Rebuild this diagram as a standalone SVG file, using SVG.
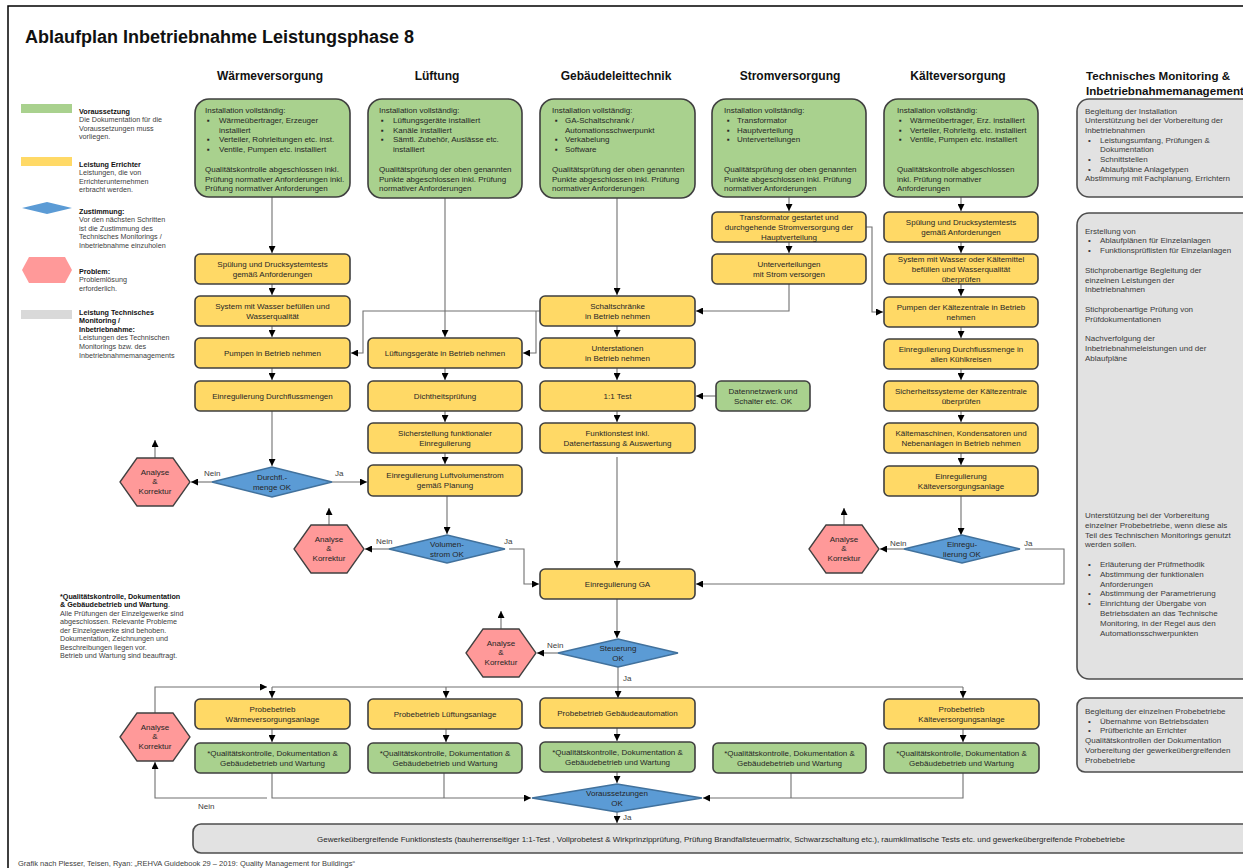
<svg xmlns="http://www.w3.org/2000/svg" width="1243" height="868" viewBox="0 0 1243 868">
<style>
text{font-family:"Liberation Sans",Arial,sans-serif}
.t{font-size:8px;fill:#262626}
.m{text-anchor:middle}
.h{font-size:12px;font-weight:bold;fill:#111}
.l{font-size:7.2px;fill:#404040}
.lb{font-weight:bold;fill:#111}
.gt{font-size:8px;fill:#3a3a3a}
.lab{font-size:8px;fill:#404040}
.g{fill:#a9d18e;stroke:#3f3f3f;stroke-width:1.6}
.y{fill:#ffd966;stroke:#3f3f3f;stroke-width:1.6}
.b{fill:#5b9bd5;stroke:#41719c;stroke-width:1.3}
.p{fill:#ff9999;stroke:#404040;stroke-width:1.3}
.gr{fill:#e2e2e2;stroke:#4d4d4d;stroke-width:1.6}
.cn{fill:none;stroke:#707070;stroke-width:1.1}
.ar{marker-end:url(#ah)}
</style>
<defs>
<marker id="ah" viewBox="0 0 10 10" refX="10" refY="5" markerWidth="7" markerHeight="7" orient="auto" markerUnits="userSpaceOnUse"><path d="M0,0 L10,5 L0,10 z" fill="#000"/></marker>
</defs>
<rect x="0" y="0" width="1243" height="868" fill="#fff"/>
<rect x="8" y="6" width="1250" height="880" fill="none" stroke="#000" stroke-width="1.5"/>
<text x="25" y="43" font-size="18" font-weight="bold" fill="#111">Ablaufplan Inbetriebnahme Leistungsphase 8</text>

<g id="headers">
<text class="h m" x="270" y="80">Wärmeversorgung</text>
<text class="h m" x="437" y="80">Lüftung</text>
<text class="h m" x="616" y="80">Gebäudeleittechnik</text>
<text class="h m" x="790" y="80">Stromversorgung</text>
<text class="h m" x="958" y="80">Kälteversorgung</text>
<text class="h" x="1086" y="80" style="font-size:11.6px">Technisches Monitoring &amp;</text>
<text class="h" x="1086" y="95" style="font-size:11.6px">Inbetriebnahmemanagement</text>
</g>

<g id="legend">
<rect x="21" y="104" width="51" height="9" fill="#a9d18e"/>
<text class="l" x="79"><tspan class="lb" x="79" y="113.5">Voraussetzung</tspan><tspan x="79" y="122.1">Die Dokumentation für die</tspan><tspan x="79" y="130.7">Voraussetzungen muss</tspan><tspan x="79" y="139.3">vorliegen.</tspan></text>
<rect x="21" y="157" width="51" height="9" fill="#ffd966"/>
<text class="l"><tspan class="lb" x="79" y="166.5">Leistung Errichter</tspan><tspan x="79" y="175.1">Leistungen, die von</tspan><tspan x="79" y="183.7">Errichterunternehmen</tspan><tspan x="79" y="192.3">erbracht werden.</tspan></text>
<polygon points="22,208 47,202 72,208 47,214" fill="#5b9bd5"/>
<text class="l"><tspan class="lb" x="79" y="213.5">Zustimmung:</tspan><tspan x="79" y="222.1">Vor den nächsten Schritten</tspan><tspan x="79" y="230.7">ist die Zustimmung des</tspan><tspan x="79" y="239.3">Technisches Monitorings /</tspan><tspan x="79" y="247.9">Inbetriebnahme einzuholen</tspan></text>
<polygon points="22,270 29,257 65,257 72,270 65,283 29,283" fill="#ff9999"/>
<text class="l"><tspan class="lb" x="79" y="273.5">Problem:</tspan><tspan x="79" y="282.1">Problemlösung</tspan><tspan x="79" y="290.7">erforderlich.</tspan></text>
<rect x="21" y="310" width="51" height="9" fill="#d9d9d9"/>
<text class="l"><tspan class="lb" x="79" y="314.5">Leistung Technisches</tspan><tspan class="lb" x="79" y="323.1">Monitoring /</tspan><tspan class="lb" x="79" y="331.7">Inbetriebnahme:</tspan><tspan x="79" y="340.3">Leistungen des Technischen</tspan><tspan x="79" y="348.9">Monitorings bzw. des</tspan><tspan x="79" y="357.5">Inbetriebnahmemanagements</tspan></text>
</g>

<g id="footnote">
<text class="l"><tspan class="lb" x="60" y="598.5">*Qualitätskontrolle, Dokumentation</tspan><tspan class="lb" x="60" y="607">&amp; Gebäudebetrieb und Wartung</tspan><tspan>.</tspan><tspan x="60" y="615.5">Alle Prüfungen der Einzelgewerke sind</tspan><tspan x="60" y="624">abgeschlossen. Relevante Probleme</tspan><tspan x="60" y="632.5">der Einzelgewerke sind behoben.</tspan><tspan x="60" y="641">Dokumentation, Zeichnungen und</tspan><tspan x="60" y="649.5">Beschreibungen liegen vor.</tspan><tspan x="60" y="658">Betrieb und Wartung sind beauftragt.</tspan></text>
</g>

<g id="connectors">
<path class="cn ar" d="M272,197 V253"/>
<path class="cn ar" d="M272,284 V295"/>
<path class="cn ar" d="M272,326 V337"/>
<path class="cn ar" d="M272,368 V380"/>
<path class="cn ar" d="M272,411 V466"/>
<path class="cn ar" d="M212,482 H191"/>
<path class="cn ar" d="M332,482 H367"/>
<path class="cn ar" d="M155,458 V440"/>
<path class="cn ar" d="M540,311 H363 V353 H351"/>
<path class="cn ar" d="M536,311 V353 H523"/>
<path class="cn ar" d="M445,198 V337"/>
<path class="cn ar" d="M445,368 V380"/>
<path class="cn ar" d="M445,411 V422"/>
<path class="cn ar" d="M445,453 V464"/>
<path class="cn ar" d="M447,496 V534"/>
<path class="cn ar" d="M389,549 H365"/>
<path class="cn ar" d="M329,525 V508"/>
<path class="cn ar" d="M509,549 H524 V584 H539"/>
<path class="cn ar" d="M617,198 V295"/>
<path class="cn ar" d="M617,326 V337"/>
<path class="cn ar" d="M617,368 V380"/>
<path class="cn ar" d="M617,411 V422"/>
<path class="cn ar" d="M617,457 V568"/>
<path class="cn ar" d="M716,396 H696"/>
<path class="cn ar" d="M789,284 V311 H696"/>
<path class="cn ar" d="M617,599 V638"/>
<path class="cn ar" d="M558,653 H537"/>
<path class="cn ar" d="M501,629 V611"/>
<path class="cn ar" d="M618,667 V698"/>
<path class="cn" d="M272,687 H963"/>
<path class="cn ar" d="M272,687 V698"/>
<path class="cn ar" d="M446,687 V698"/>
<path class="cn ar" d="M963,687 V698"/>
<path class="cn ar" d="M155,713 V687 H267"/>
<path class="cn ar" d="M272,729 V742"/>
<path class="cn ar" d="M446,729 V742"/>
<path class="cn ar" d="M617,728 V741"/>
<path class="cn ar" d="M963,729 V742"/>
<path class="cn ar" d="M272,773 V798 H531"/>
<path class="cn" d="M444,773 V798"/>
<path class="cn ar" d="M617,772 V783"/>
<path class="cn ar" d="M963,773 V798 H703"/>
<path class="cn" d="M791,773 V798"/>
<path class="cn ar" d="M267,798 H155 V762"/>
<path class="cn ar" d="M617,812 V823"/>
<path class="cn ar" d="M789,197 V211"/>
<path class="cn ar" d="M789,242 V253"/>
<path class="cn ar" d="M866,227 H872 V312 H883"/>
<path class="cn ar" d="M961,197 V211"/>
<path class="cn ar" d="M961,242 V253"/>
<path class="cn ar" d="M961,284 V296"/>
<path class="cn ar" d="M961,327 V338"/>
<path class="cn ar" d="M961,369 V380"/>
<path class="cn ar" d="M961,411 V422"/>
<path class="cn ar" d="M961,453 V465"/>
<path class="cn ar" d="M961,496 V535"/>
<path class="cn ar" d="M904,549 H880"/>
<path class="cn ar" d="M844,525 V508"/>
<path class="cn ar" d="M1025,549 H1064 V584 H696"/>
</g>

<g id="labels">
<text class="lab" x="204" y="476">Nein</text>
<text class="lab" x="335" y="476">Ja</text>
<text class="lab" x="376" y="544">Nein</text>
<text class="lab" x="504" y="544">Ja</text>
<text class="lab" x="547" y="648">Nein</text>
<text class="lab" x="623" y="681">Ja</text>
<text class="lab" x="890" y="546">Nein</text>
<text class="lab" x="1024" y="546">Ja</text>
<text class="lab" x="198" y="809">Nein</text>
<text class="lab" x="623" y="820">Ja</text>
</g>

<g id="waerme-install">
<rect class="g" x="195" y="99" width="155" height="98" rx="14"/>
<text class="t"><tspan x="205" y="113">Installation vollständig:</tspan><tspan x="207" y="122.8">▪</tspan><tspan x="219" y="122.8">Wärmeübertrager, Erzeuger</tspan><tspan x="219" y="132.6">installiert</tspan><tspan x="207" y="142.4">▪</tspan><tspan x="219" y="142.4">Verteiler, Rohrleitungen etc. inst.</tspan><tspan x="207" y="152.2">▪</tspan><tspan x="219" y="152.2">Ventile, Pumpen etc. installiert</tspan><tspan x="205" y="171.8">Qualitätskontrolle abgeschlossen inkl.</tspan><tspan x="205" y="181.6">Prüfung normativer Anforderungen inkl.</tspan><tspan x="205" y="191.4">Prüfung normativer Anforderungen</tspan></text>
</g>
<g id="waerme-spuelung"><rect class="y" x="195" y="254" width="155" height="30" rx="5"/><text class="t m" x="272.5"><tspan x="272.5" y="267">Spülung und Drucksystemtests</tspan><tspan x="272.5" y="277">gemäß Anforderungen</tspan></text></g>
<g id="waerme-befuellen"><rect class="y" x="195" y="296" width="155" height="30" rx="5"/><text class="t m"><tspan x="272.5" y="309">System mit Wasser befüllen und</tspan><tspan x="272.5" y="319">Wasserqualität</tspan></text></g>
<g id="waerme-pumpen"><rect class="y" x="195" y="338" width="155" height="30" rx="5"/><text class="t m" x="272.5" y="356">Pumpen in Betrieb nehmen</text></g>
<g id="waerme-einreg"><rect class="y" x="195" y="381" width="155" height="30" rx="5"/><text class="t m" x="272.5" y="399">Einregulierung Durchflussmengen</text></g>
<g id="waerme-ok"><polygon class="b" points="212,482 272,467 332,482 272,497"/><text class="t m"><tspan x="272" y="480">Durchfl.-</tspan><tspan x="272" y="490">menge OK</tspan></text></g>
<g id="waerme-analyse"><polygon class="p" points="120,482 137,458 173,458 190,482 173,506 137,506"/><text class="t m"><tspan x="155" y="475">Analyse</tspan><tspan x="155" y="484">&amp;</tspan><tspan x="155" y="494">Korrektur</tspan></text></g>

<g id="lueftung-install">
<rect class="g" x="368" y="99" width="154" height="99" rx="14"/>
<text class="t"><tspan x="379" y="113">Installation vollständig:</tspan><tspan x="381" y="122.8">▪</tspan><tspan x="393" y="122.8">Lüftungsgeräte installiert</tspan><tspan x="381" y="132.6">▪</tspan><tspan x="393" y="132.6">Kanäle installiert</tspan><tspan x="381" y="142.4">▪</tspan><tspan x="393" y="142.4">Sämtl. Zubehör, Auslässe etc.</tspan><tspan x="393" y="152.2">installiert</tspan><tspan x="379" y="171.8">Qualitätsprüfung der oben genannten</tspan><tspan x="379" y="181.6">Punkte abgeschlossen inkl. Prüfung</tspan><tspan x="379" y="191.4">normativer Anforderungen</tspan></text>
</g>
<g id="lueftung-geraete"><rect class="y" x="368" y="338" width="154" height="30" rx="5"/><text class="t m" x="445" y="356">Lüftungsgeräte in Betrieb nehmen</text></g>
<g id="lueftung-dicht"><rect class="y" x="368" y="381" width="154" height="30" rx="5"/><text class="t m" x="445" y="399">Dichtheitsprüfung</text></g>
<g id="lueftung-sicher"><rect class="y" x="368" y="423" width="154" height="30" rx="5"/><text class="t m"><tspan x="445" y="436">Sicherstellung funktionaler</tspan><tspan x="445" y="446">Einregulierung</tspan></text></g>
<g id="lueftung-volumen"><rect class="y" x="368" y="465" width="154" height="31" rx="5"/><text class="t m"><tspan x="445" y="478">Einregulierung Luftvolumenstrom</tspan><tspan x="445" y="488">gemäß Planung</tspan></text></g>
<g id="lueftung-ok"><polygon class="b" points="389,549 447,535 505,549 447,563"/><text class="t m"><tspan x="447" y="547">Volumen-</tspan><tspan x="447" y="557">strom OK</tspan></text></g>
<g id="lueftung-analyse"><polygon class="p" points="294,549 311,525 347,525 364,549 347,573 311,573"/><text class="t m"><tspan x="329" y="542">Analyse</tspan><tspan x="329" y="551">&amp;</tspan><tspan x="329" y="561">Korrektur</tspan></text></g>

<g id="glt-install">
<rect class="g" x="540" y="99" width="155" height="99" rx="14"/>
<text class="t"><tspan x="552" y="113">Installation vollständig:</tspan><tspan x="555" y="122.8">▪</tspan><tspan x="565" y="122.8">GA-Schaltschrank /</tspan><tspan x="565" y="132.6">Automationsschwerpunkt</tspan><tspan x="555" y="142.4">▪</tspan><tspan x="565" y="142.4">Verkabelung</tspan><tspan x="555" y="152.2">▪</tspan><tspan x="565" y="152.2">Software</tspan><tspan x="552" y="171.8">Qualitätsprüfung der oben genannten</tspan><tspan x="552" y="181.6">Punkte abgeschlossen inkl. Prüfung</tspan><tspan x="552" y="191.4">normativer Anforderungen</tspan></text>
</g>
<g id="glt-schaltschraenke"><rect class="y" x="540" y="296" width="155" height="30" rx="5"/><text class="t m"><tspan x="617.5" y="309">Schaltschränke</tspan><tspan x="617.5" y="319">in Betrieb nehmen</tspan></text></g>
<g id="glt-unterstationen"><rect class="y" x="540" y="338" width="155" height="30" rx="5"/><text class="t m"><tspan x="617.5" y="351">Unterstationen</tspan><tspan x="617.5" y="361">in Betrieb nehmen</tspan></text></g>
<g id="glt-test"><rect class="y" x="540" y="381" width="155" height="30" rx="5"/><text class="t m" x="617.5" y="399">1:1 Test</text></g>
<g id="glt-funktionstest"><rect class="y" x="540" y="423" width="155" height="30" rx="5"/><text class="t m"><tspan x="617.5" y="436">Funktionstest inkl.</tspan><tspan x="617.5" y="446">Datenerfassung &amp; Auswertung</tspan></text></g>
<g id="glt-einreg"><rect class="y" x="540" y="569" width="155" height="30" rx="5"/><text class="t m" x="617.5" y="587">Einregulierung GA</text></g>
<g id="glt-ok"><polygon class="b" points="558,653 618,639 678,653 618,667"/><text class="t m"><tspan x="618" y="651">Steuerung</tspan><tspan x="618" y="661">OK</tspan></text></g>
<g id="glt-analyse"><polygon class="p" points="466,653 483,629 519,629 536,653 519,677 483,677"/><text class="t m"><tspan x="501" y="646">Analyse</tspan><tspan x="501" y="655">&amp;</tspan><tspan x="501" y="665">Korrektur</tspan></text></g>

<g id="strom-install">
<rect class="g" x="712" y="99" width="154" height="98" rx="14"/>
<text class="t"><tspan x="724" y="113">Installation vollständig:</tspan><tspan x="727" y="122.8">▪</tspan><tspan x="737" y="122.8">Transformator</tspan><tspan x="727" y="132.6">▪</tspan><tspan x="737" y="132.6">Hauptverteilung</tspan><tspan x="727" y="142.4">▪</tspan><tspan x="737" y="142.4">Unterverteilungen</tspan><tspan x="724" y="171.8">Qualitätsprüfung der oben genannten</tspan><tspan x="724" y="181.6">Punkte abgeschlossen inkl. Prüfung</tspan><tspan x="724" y="191.4">normativer Anforderungen</tspan></text>
</g>
<g id="strom-trafo"><rect class="y" x="712" y="212" width="154" height="30" rx="5"/><text class="t m"><tspan x="789" y="220">Transformator gestartet und</tspan><tspan x="789" y="230">durchgehende Stromversorgung der</tspan><tspan x="789" y="240">Hauptverteilung</tspan></text></g>
<g id="strom-unterverteilung"><rect class="y" x="712" y="254" width="154" height="30" rx="5"/><text class="t m"><tspan x="789" y="267">Unterverteilungen</tspan><tspan x="789" y="277">mit Strom versorgen</tspan></text></g>
<g id="strom-datennetz"><rect class="g" x="716" y="381" width="94" height="30" rx="5"/><text class="t m"><tspan x="763" y="394">Datennetzwerk und</tspan><tspan x="763" y="404">Schalter etc. OK</tspan></text></g>

<g id="kaelte-install">
<rect class="g" x="884" y="99" width="154" height="98" rx="14"/>
<text class="t"><tspan x="897" y="113">Installation vollständig:</tspan><tspan x="899" y="122.8">▪</tspan><tspan x="910" y="122.8">Wärmeübertrager, Erz. installiert</tspan><tspan x="899" y="132.6">▪</tspan><tspan x="910" y="132.6">Verteiler, Rohrleitg. etc. installiert</tspan><tspan x="899" y="142.4">▪</tspan><tspan x="910" y="142.4">Ventile, Pumpen etc. installiert</tspan><tspan x="897" y="171.8">Qualitätskontrolle abgeschlossen</tspan><tspan x="897" y="181.6">inkl. Prüfung normativer</tspan><tspan x="897" y="191.4">Anforderungen</tspan></text>
</g>
<g id="kaelte-spuelung"><rect class="y" x="884" y="212" width="154" height="30" rx="5"/><text class="t m"><tspan x="961" y="225">Spülung und Drucksystemtests</tspan><tspan x="961" y="235">gemäß Anforderungen</tspan></text></g>
<g id="kaelte-befuellen"><rect class="y" x="884" y="254" width="154" height="30" rx="5"/><text class="t m"><tspan x="961" y="262">System mit Wasser oder Kältemittel</tspan><tspan x="961" y="272">befüllen und Wasserqualität</tspan><tspan x="961" y="282">überprüfen</tspan></text></g>
<g id="kaelte-pumpen"><rect class="y" x="884" y="297" width="154" height="30" rx="5"/><text class="t m"><tspan x="961" y="310">Pumpen der Kältezentrale in Betrieb</tspan><tspan x="961" y="320">nehmen</tspan></text></g>
<g id="kaelte-durchfluss"><rect class="y" x="884" y="339" width="154" height="30" rx="5"/><text class="t m"><tspan x="961" y="352">Einregulierung Durchflussmenge in</tspan><tspan x="961" y="362">allen Kühlkreisen</tspan></text></g>
<g id="kaelte-sicherheit"><rect class="y" x="884" y="381" width="154" height="30" rx="5"/><text class="t m"><tspan x="961" y="394">Sicherheitssysteme der Kältezentrale</tspan><tspan x="961" y="404">überprüfen</tspan></text></g>
<g id="kaelte-maschinen"><rect class="y" x="884" y="423" width="154" height="30" rx="5"/><text class="t m"><tspan x="961" y="436">Kältemaschinen, Kondensatoren und</tspan><tspan x="961" y="446">Nebenanlagen in Betrieb nehmen</tspan></text></g>
<g id="kaelte-einreg"><rect class="y" x="884" y="466" width="154" height="30" rx="5"/><text class="t m"><tspan x="961" y="479">Einregulierung</tspan><tspan x="961" y="489">Kälteversorgungsanlage</tspan></text></g>
<g id="kaelte-ok"><polygon class="b" points="904,549 962,535 1020,549 962,563"/><text class="t m"><tspan x="962" y="547">Einregu-</tspan><tspan x="962" y="557">lierung OK</tspan></text></g>
<g id="kaelte-analyse"><polygon class="p" points="809,549 826,525 862,525 879,549 862,573 826,573"/><text class="t m"><tspan x="844" y="542">Analyse</tspan><tspan x="844" y="551">&amp;</tspan><tspan x="844" y="561">Korrektur</tspan></text></g>

<g id="probe-waerme"><rect class="y" x="195" y="699" width="155" height="30" rx="5"/><text class="t m"><tspan x="272.5" y="712">Probebetrieb</tspan><tspan x="272.5" y="722">Wärmeversorgungsanlage</tspan></text></g>
<g id="qk-waerme"><rect class="g" x="195" y="743" width="155" height="30" rx="5"/><text class="t m"><tspan x="272.5" y="756">*Qualitätskontrolle, Dokumentation &amp;</tspan><tspan x="272.5" y="766">Gebäudebetrieb und Wartung</tspan></text></g>
<g id="probe-analyse"><polygon class="p" points="120,737 137,713 173,713 190,737 173,761 137,761"/><text class="t m"><tspan x="155" y="730">Analyse</tspan><tspan x="155" y="739">&amp;</tspan><tspan x="155" y="749">Korrektur</tspan></text></g>
<g id="probe-lueftung"><rect class="y" x="368" y="699" width="154" height="30" rx="5"/><text class="t m" x="445" y="717">Probebetrieb Lüftungsanlage</text></g>
<g id="qk-lueftung"><rect class="g" x="368" y="743" width="154" height="30" rx="5"/><text class="t m"><tspan x="445" y="756">*Qualitätskontrolle, Dokumentation &amp;</tspan><tspan x="445" y="766">Gebäudebetrieb und Wartung</tspan></text></g>
<g id="probe-glt"><rect class="y" x="540" y="698" width="155" height="30" rx="5"/><text class="t m" x="617.5" y="716">Probebetrieb Gebäudeautomation</text></g>
<g id="qk-glt"><rect class="g" x="540" y="742" width="155" height="30" rx="5"/><text class="t m"><tspan x="617.5" y="755">*Qualitätskontrolle, Dokumentation &amp;</tspan><tspan x="617.5" y="765">Gebäudebetrieb und Wartung</tspan></text></g>
<g id="qk-strom"><rect class="g" x="713" y="743" width="153" height="30" rx="5"/><text class="t m"><tspan x="789.5" y="756">*Qualitätskontrolle, Dokumentation &amp;</tspan><tspan x="789.5" y="766">Gebäudebetrieb und Wartung</tspan></text></g>
<g id="probe-kaelte"><rect class="y" x="884" y="699" width="155" height="30" rx="5"/><text class="t m"><tspan x="961.5" y="712">Probebetrieb</tspan><tspan x="961.5" y="722">Kälteversorgungsanlage</tspan></text></g>
<g id="qk-kaelte"><rect class="g" x="884" y="743" width="155" height="30" rx="5"/><text class="t m"><tspan x="961.5" y="756">*Qualitätskontrolle, Dokumentation &amp;</tspan><tspan x="961.5" y="766">Gebäudebetrieb und Wartung</tspan></text></g>
<g id="voraussetzungen-ok"><polygon class="b" points="532,798 617,784 702,798 617,812"/><text class="t m"><tspan x="617" y="796">Voraussetzungen</tspan><tspan x="617" y="806">OK</tspan></text></g>

<g id="tm-1"><rect class="gr" x="1077" y="99" width="190" height="98" rx="12"/>
<text class="gt"><tspan x="1085" y="113.5">Begleitung der Installation</tspan><tspan x="1085" y="123.2">Unterstützung bei der Vorbereitung der</tspan><tspan x="1085" y="132.9">Inbetriebnahmen</tspan><tspan x="1088" y="142.6">•</tspan><tspan x="1100" y="142.6">Leistungsumfang, Prüfungen &amp;</tspan><tspan x="1100" y="152.3">Dokumentation</tspan><tspan x="1088" y="162">•</tspan><tspan x="1100" y="162">Schnittstellen</tspan><tspan x="1088" y="171.7">•</tspan><tspan x="1100" y="171.7">Ablaufpläne Anlagetypen</tspan><tspan x="1085" y="181.4">Abstimmung mit Fachplanung, Errichtern</tspan></text></g>
<g id="tm-2"><rect class="gr" x="1077" y="213" width="190" height="466" rx="12"/>
<text class="gt"><tspan x="1085" y="233.5">Erstellung von</tspan><tspan x="1088" y="243.3">•</tspan><tspan x="1100" y="243.3">Ablaufplänen für Einzelanlagen</tspan><tspan x="1088" y="253.1">•</tspan><tspan x="1100" y="253.1">Funktionsprüflisten für Einzelanlagen</tspan><tspan x="1085" y="272.7">Stichprobenartige Begleitung der</tspan><tspan x="1085" y="282.5">einzelnen Leistungen der</tspan><tspan x="1085" y="292.3">Inbetriebnahmen</tspan><tspan x="1085" y="311.9">Stichprobenartige Prüfung von</tspan><tspan x="1085" y="321.7">Prüfdokumentationen</tspan><tspan x="1085" y="341.3">Nachverfolgung der</tspan><tspan x="1085" y="351.1">Inbetriebnahmeleistungen und der</tspan><tspan x="1085" y="360.9">Ablaufpläne</tspan><tspan x="1085" y="518">Unterstützung bei der Vorbereitung</tspan><tspan x="1085" y="527.8">einzelner Probebetriebe, wenn diese als</tspan><tspan x="1085" y="537.6">Teil des Technischen Monitorings genutzt</tspan><tspan x="1085" y="547.4">werden sollen.</tspan><tspan x="1088" y="567">•</tspan><tspan x="1100" y="567">Erläuterung der Prüfmethodik</tspan><tspan x="1088" y="576.8">•</tspan><tspan x="1100" y="576.8">Abstimmung der funktionalen</tspan><tspan x="1100" y="586.6">Anforderungen</tspan><tspan x="1088" y="596.4">•</tspan><tspan x="1100" y="596.4">Abstimmung der Parametrierung</tspan><tspan x="1088" y="606.2">•</tspan><tspan x="1100" y="606.2">Einrichtung der Übergabe von</tspan><tspan x="1100" y="616">Betriebsdaten an das Technische</tspan><tspan x="1100" y="625.8">Monitoring, in der Regel aus den</tspan><tspan x="1100" y="635.6">Automationsschwerpunkten</tspan></text></g>
<g id="tm-3"><rect class="gr" x="1077" y="698" width="190" height="74" rx="8"/>
<text class="gt"><tspan x="1085" y="714">Begleitung der einzelnen Probebetriebe</tspan><tspan x="1088" y="723.7">•</tspan><tspan x="1100" y="723.7">Übernahme von Betriebsdaten</tspan><tspan x="1088" y="733.4">•</tspan><tspan x="1100" y="733.4">Prüfberichte an Errichter</tspan><tspan x="1085" y="743.1">Qualitätskontrollen der Dokumentation</tspan><tspan x="1085" y="752.8">Vorbereitung der gewerkeübergreifenden</tspan><tspan x="1085" y="762.5">Probebetriebe</tspan></text></g>

<g id="funktionstests"><rect class="gr" x="193" y="824" width="1080" height="29" rx="8"/>
<text class="t m" x="721" y="842">Gewerkeübergreifende Funktionstests (bauherrenseitiger 1:1-Test , Vollprobetest &amp; Wirkprinzipprüfung, Prüfung Brandfallsteuermatrix, Schwarzschaltung etc.), raumklimatische Tests etc. und gewerkeübergreifende Probebetriebe</text></g>

<text x="18" y="866" font-size="7.5" fill="#404040">Grafik nach Plesser, Teisen, Ryan: „REHVA Guidebook 29 – 2019: Quality Management for Buildings“</text>
</svg>
